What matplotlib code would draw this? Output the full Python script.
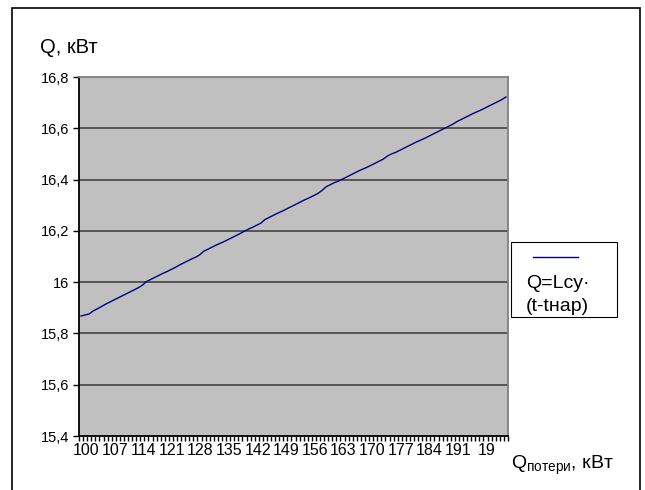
import numpy as np
import matplotlib
matplotlib.use("Agg")
import matplotlib.pyplot as plt
from matplotlib.patches import Rectangle
from matplotlib.lines import Line2D
from matplotlib.transforms import ScaledTranslation

plt.rcParams['font.family'] = ['Liberation Sans', 'DejaVu Sans']
plt.rcParams['mathtext.fontset'] = 'custom'
plt.rcParams['mathtext.rm'] = 'Liberation Sans'

# categories 100..204 (excel category axis)
q_loss = list(range(100, 205))

# Q values, one per category
q_val = [15.868, 15.872, 15.876, 15.888, 15.896, 15.905, 15.914,
         15.922, 15.930, 15.938, 15.946, 15.954, 15.962, 15.970,
         15.978, 15.988, 16.002, 16.010, 16.018, 16.026, 16.034,
         16.041, 16.049, 16.057, 16.066, 16.074, 16.082, 16.090,
         16.097, 16.106, 16.120, 16.128, 16.136, 16.144, 16.151,
         16.158, 16.166, 16.174, 16.182, 16.190, 16.199, 16.207,
         16.214, 16.222, 16.230, 16.244, 16.252, 16.260, 16.268,
         16.275, 16.283, 16.291, 16.299, 16.307, 16.315, 16.323,
         16.330, 16.338, 16.346, 16.358, 16.372, 16.380, 16.388,
         16.394, 16.402, 16.410, 16.418, 16.426, 16.434, 16.441,
         16.448, 16.456, 16.464, 16.472, 16.480, 16.492, 16.500,
         16.506, 16.514, 16.522, 16.530, 16.538, 16.546, 16.553,
         16.560, 16.568, 16.576, 16.584, 16.592, 16.600, 16.608,
         16.616, 16.626, 16.634, 16.642, 16.650, 16.658, 16.665,
         16.672, 16.680, 16.688, 16.696, 16.704, 16.712, 16.722]

# x labels every 7th category, last one is clipped in the original ("19")
x_labels = ["100", "107", "114", "121", "128", "135", "142", "149",
            "156", "163", "170", "177", "184", "191", "19"]
y_ticks = [15.4, 15.6, 15.8, 16.0, 16.2, 16.4, 16.6, 16.8]
y_labels = ["15,4", "15,6", "15,8", "16", "16,2", "16,4", "16,6", "16,8"]

W, H = 645, 490
fig = plt.figure(figsize=(W / 100, H / 100), dpi=100)
fig.patch.set_facecolor('white')

def fx(px):
    return px / W

def fy(py):
    return 1 - py / H

# outer chart border
fig.add_artist(Rectangle((fx(12), fy(492)), fx(640) - fx(12), fy(8) - fy(492),
                         transform=fig.transFigure, fill=False, ec='black', lw=1.2))

ax = fig.add_axes([fx(79), fy(436), fx(508) - fx(79), fy(77) - fy(436)])
ax.set_facecolor('#c0c0c0')

idx = np.arange(len(q_loss))
ax.plot(idx, q_val, color='#000080', lw=1.0, zorder=3)

ax.set_xlim(-0.5, len(q_loss) - 0.5)
ax.set_ylim(15.4, 16.8)

for yv in y_ticks[1:-1]:
    ax.axhline(yv, color='#4d4d4d', lw=1.3, zorder=2)

ax.set_yticks(y_ticks)
ax.set_yticklabels(y_labels, fontsize=10.5)
ax.tick_params(axis='y', length=4, width=1, direction='out', pad=3)

lab_pos = [q_loss.index(int(s)) if len(s) == 3 else 98 for s in x_labels]
ax.set_xticks(lab_pos)
ax.set_xticklabels(x_labels, fontsize=11.5)
ax.set_xticks(np.arange(len(q_loss) + 1) - 0.5, minor=True)
ax.tick_params(axis='x', which='major', length=0, pad=5)
ax.tick_params(axis='x', which='minor', length=3.5, width=1, direction='out')
shift = ScaledTranslation(5 / 100, 0, fig.dpi_scale_trans)
for t in ax.get_xticklabels():
    t.set_transform(t.get_transform() + shift)

for side in ['top', 'right']:
    ax.spines[side].set_color('#808080')
    ax.spines[side].set_linewidth(1.3)
for side in ['left', 'bottom']:
    ax.spines[side].set_color('black')
    ax.spines[side].set_linewidth(1.3)

# axis titles
fig.text(fx(40), fy(53), "Q, кВт", fontsize=14.5, ha='left', va='baseline')
fig.text(fx(511), fy(469), "Q$_{\\mathregular{потери}}$, кВт", fontsize=14,
         ha='left', va='baseline')

# legend box
fig.add_artist(Rectangle((fx(511), fy(317)), fx(617) - fx(511), fy(242) - fy(317),
                         transform=fig.transFigure, fill=True, fc='white',
                         ec='black', lw=0.8))
fig.add_artist(Line2D([fx(533), fx(578)], [fy(257), fy(257)],
                      transform=fig.transFigure, color='#000080', lw=1.0))
fig.text(fx(526), fy(288), "Q=Lcy·", fontsize=14, ha='left', va='baseline')
fig.text(fx(526), fy(311), "(t-tнар)", fontsize=14, ha='left', va='baseline')

fig.savefig("out.png", dpi=100)
